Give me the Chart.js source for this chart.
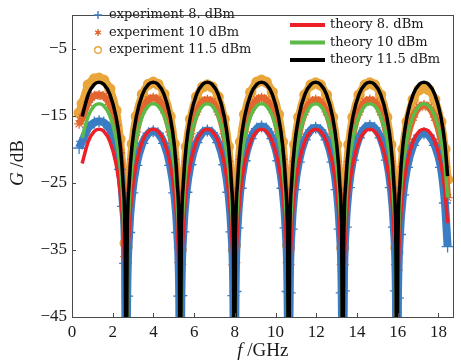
<!DOCTYPE html>
<html>
<head>
<meta charset="utf-8">
<script src="https://cdn.jsdelivr.net/npm/chart.js@4.4.1/dist/chart.umd.min.js"></script>
<style>
    html, body { margin: 0; padding: 0; background: #fff; }
    #wrap { width: 461px; height: 364px; }
</style>
</head>
<body>
<div id="wrap"><canvas id="gain_chart" width="461" height="364"></canvas></div>
<script>
// frequency points (GHz) for the theory curves
var theory_freq = [0.5, 0.8, 1.1, 1.33, 1.56, 1.86, 2.16, 2.36, 2.51, 2.61, 2.66,
    2.71, 2.81, 2.96, 3.16, 3.46, 3.76, 3.99, 4.22, 4.52, 4.82, 5.02, 5.17, 5.27, 5.32,
    5.37, 5.47, 5.62, 5.82, 6.12, 6.42, 6.65, 6.88, 7.18, 7.48, 7.68, 7.83, 7.93, 7.98,
    8.03, 8.13, 8.28, 8.48, 8.78, 9.08, 9.31, 9.54, 9.84, 10.14, 10.34, 10.49, 10.59, 10.64,
    10.69, 10.79, 10.94, 11.14, 11.44, 11.74, 11.97, 12.2, 12.5, 12.8, 13.0, 13.15, 13.25, 13.3,
    13.35, 13.45, 13.6, 13.8, 14.1, 14.4, 14.63, 14.86, 15.16, 15.46, 15.66, 15.81, 15.91, 15.96,
    16.01, 16.11, 16.26, 16.46, 16.76, 17.06, 17.29, 17.52, 17.82, 18.12, 18.32, 18.45];

var theory_8 = [-22.1, -18.8, -17.3, -17, -17.3, -18.8, -22.1, -26.2, -32.1, -41.6, -60,
    -41.6, -32.1, -26.2, -22.1, -18.8, -17.3, -17, -17.3, -18.8, -22.1, -26.2, -32.1, -41.6, -60,
    -41.6, -32.1, -26.2, -22.1, -18.8, -17.3, -17, -17.3, -18.8, -22.1, -26.2, -32.1, -41.6, -60,
    -41.6, -32.1, -26.2, -22.1, -18.8, -17.3, -17, -17.3, -18.8, -22.1, -26.2, -32.1, -41.6, -60,
    -41.6, -32.1, -26.2, -22.1, -18.8, -17.3, -17, -17.3, -18.8, -22.1, -26.2, -32.1, -41.6, -60,
    -41.6, -32.1, -26.2, -22.1, -18.8, -17.3, -17, -17.3, -18.8, -22.1, -26.2, -32.1, -41.6, -60,
    -41.6, -32.1, -26.2, -22.1, -18.8, -17.3, -17, -17.3, -18.8, -22.1, -26.2, -31.0];

var theory_10 = [-18.3, -15.0, -13.5, -13.2, -13.5, -15.0, -18.3, -22.4, -28.3, -37.8, -60,
    -37.8, -28.3, -22.4, -18.3, -15.0, -13.5, -13.2, -13.5, -15.0, -18.3, -22.4, -28.3, -37.8, -60,
    -37.8, -28.3, -22.4, -18.3, -15.0, -13.5, -13.2, -13.5, -15.0, -18.3, -22.4, -28.3, -37.8, -60,
    -37.8, -28.3, -22.4, -18.3, -15.0, -13.5, -13.2, -13.5, -15.0, -18.3, -22.4, -28.3, -37.8, -60,
    -37.8, -28.3, -22.4, -18.3, -15.0, -13.5, -13.2, -13.5, -15.0, -18.3, -22.4, -28.3, -37.8, -60,
    -37.8, -28.3, -22.4, -18.3, -15.0, -13.5, -13.2, -13.5, -15.0, -18.3, -22.4, -28.3, -37.8, -60,
    -37.8, -28.3, -22.4, -18.3, -15.0, -13.5, -13.2, -13.5, -15.0, -18.3, -22.4, -27.2];

var theory_11_5 = [-15.1, -11.8, -10.3, -10, -10.3, -11.8, -15.1, -19.2, -25.1, -34.6, -60,
    -34.6, -25.1, -19.2, -15.1, -11.8, -10.3, -10, -10.3, -11.8, -15.1, -19.2, -25.1, -34.6, -60,
    -34.6, -25.1, -19.2, -15.1, -11.8, -10.3, -10, -10.3, -11.8, -15.1, -19.2, -25.1, -34.6, -60,
    -34.6, -25.1, -19.2, -15.1, -11.8, -10.3, -10, -10.3, -11.8, -15.1, -19.2, -25.1, -34.6, -60,
    -34.6, -25.1, -19.2, -15.1, -11.8, -10.3, -10, -10.3, -11.8, -15.1, -19.2, -25.1, -34.6, -60,
    -34.6, -25.1, -19.2, -15.1, -11.8, -10.3, -10, -10.3, -11.8, -15.1, -19.2, -25.1, -34.6, -60,
    -34.6, -25.1, -19.2, -15.1, -11.8, -10.3, -10, -10.3, -11.8, -15.1, -19.2, -24.0];

// measured data (centre of the scattered band)
var exp_freq = [0.35, 0.5, 0.8, 1.1, 1.33, 1.56, 1.86, 2.16, 2.36, 2.51, 2.61, 2.66,
    2.71, 2.81, 2.96, 3.16, 3.46, 3.76, 3.99, 4.22, 4.52, 4.82, 5.02, 5.17, 5.27, 5.32,
    5.37, 5.47, 5.62, 5.82, 6.12, 6.42, 6.65, 6.88, 7.18, 7.48, 7.68, 7.83, 7.93, 7.98,
    8.03, 8.13, 8.28, 8.48, 8.78, 9.08, 9.31, 9.54, 9.84, 10.14, 10.34, 10.49, 10.59, 10.64,
    10.69, 10.79, 10.94, 11.14, 11.44, 11.74, 11.97, 12.2, 12.5, 12.8, 13.0, 13.15, 13.25, 13.3,
    13.35, 13.45, 13.6, 13.8, 14.1, 14.4, 14.63, 14.86, 15.16, 15.46, 15.66, 15.81, 15.91, 15.96,
    16.01, 16.11, 16.26, 16.46, 16.76, 17.06, 17.29, 17.52, 17.82, 18.12, 18.32, 18.45];

var exp_8 = [-19.8, -18.8, -16.8, -16.0, -15.8, -16.0, -17.0, -19.5, -23.0, -28.5, -37.0, -60,
    -41.9, -32.4, -26.5, -22.4, -19.1, -17.6, -17.3, -17.6, -19.1, -22.4, -26.5, -32.4, -41.9, -60,
    -41.8, -32.3, -26.4, -22.3, -19.0, -17.5, -17.2, -17.5, -19.0, -22.3, -26.4, -32.3, -41.8, -60,
    -41.2, -31.7, -25.8, -21.7, -18.4, -16.9, -16.6, -16.9, -18.4, -21.7, -25.8, -31.7, -41.2, -60,
    -41.4, -31.9, -26.0, -21.9, -18.6, -17.1, -16.8, -17.1, -18.6, -21.9, -26.0, -31.9, -41.4, -60,
    -41.1, -31.6, -25.7, -21.6, -18.3, -16.8, -16.5, -16.8, -18.3, -21.6, -25.7, -31.6, -41.1, -60,
    -42.2, -32.7, -26.8, -22.7, -19.4, -17.9, -17.6, -17.9, -19.4, -22.7, -28.0, -34.5];

var exp_10 = [-16.2, -15.3, -13.0, -12.0, -11.9, -12.1, -13.3, -16.4, -20.5, -26.5, -36.0, -60,
    -36.9, -27.4, -21.5, -17.4, -14.1, -12.6, -12.3, -12.6, -14.1, -17.4, -21.5, -27.4, -36.9, -60,
    -37.2, -27.7, -21.8, -17.7, -14.4, -12.9, -12.6, -12.9, -14.4, -17.7, -21.8, -27.7, -37.2, -60,
    -36.9, -27.4, -21.5, -17.4, -14.1, -12.6, -12.3, -12.6, -14.1, -17.4, -21.5, -27.4, -36.9, -60,
    -37.2, -27.7, -21.8, -17.7, -14.4, -12.9, -12.6, -12.9, -14.4, -17.7, -21.8, -27.7, -37.2, -60,
    -37.2, -27.7, -21.8, -17.7, -14.4, -12.9, -12.6, -12.9, -14.4, -17.7, -21.8, -27.7, -37.2, -60,
    -38.0, -28.5, -22.6, -18.5, -15.2, -13.7, -13.4, -13.7, -15.2, -18.5, -22.6, -27.2];

var exp_11_5 = [-14.6, -13.2, -10.4, -9.5, -9.4, -9.7, -11.0, -14.2, -18.5, -24.5, -34.0, -60,
    -34.6, -25.1, -19.2, -15.1, -11.8, -10.3, -10.0, -10.3, -11.8, -15.1, -19.2, -25.1, -34.6, -60,
    -35.0, -25.5, -19.6, -15.5, -12.2, -10.7, -10.4, -10.7, -12.2, -15.5, -19.6, -25.5, -35.0, -60,
    -34.3, -24.8, -18.9, -14.8, -11.5, -10.0, -9.7, -10.0, -11.5, -14.8, -18.9, -24.8, -34.3, -60,
    -34.7, -25.2, -19.3, -15.2, -11.9, -10.4, -10.1, -10.4, -11.9, -15.2, -19.3, -25.2, -34.7, -60,
    -34.7, -25.2, -19.3, -15.2, -11.9, -10.4, -10.1, -10.4, -11.9, -15.2, -19.3, -25.2, -34.7, -60,
    -35.4, -25.9, -20.0, -15.9, -12.6, -11.1, -10.8, -11.1, -12.6, -15.9, -20.0, -24.5];

var x_ticks = [0, 2, 4, 6, 8, 10, 12, 14, 16, 18];
var y_ticks = [-45, -35, -25, -15, -5];

var exp_labels = ['experiment 8. dBm', 'experiment 10 dBm', 'experiment 11.5 dBm'];
var theory_labels = ['theory 8. dBm', 'theory 10 dBm', 'theory 11.5 dBm'];

var exp_colors = ['#3b7dc4', '#e2662e', '#e9a63b'];
var theory_colors = ['#ec2127', '#5cba46', '#000000'];

function toPoints(xs, ys) {
    var pts = [];
    for (let k = 0; k < xs.length; k++) {
        pts.push({ x: xs[k], y: ys[k] });
    }
    return pts;
}

function lineSet(label, xs, ys, color, width, order, marker) {
    return {
        label: label,
        data: toPoints(xs, ys),
        showLine: true,
        borderColor: color,
        backgroundColor: color,
        borderWidth: width,
        pointRadius: 0,
        cubicInterpolationMode: 'monotone',
        clip: 0,
        order: order,
        marker: marker
    };
}

// measured sets get their scatter marker on top of the band
function expSet(label, xs, ys, color, width, order, marker, style, radius) {
    var ds = lineSet(label, xs, ys, color, width, order, marker);
    ds.pointStyle = style;
    ds.pointRadius = radius;
    ds.pointBorderWidth = 1.3;
    ds.pointBorderColor = color;
    ds.pointBackgroundColor = color;
    return ds;
}

var datasets = [
    lineSet(theory_labels[2], theory_freq, theory_11_5, theory_colors[2], 3.5, 1, 'line'),
    lineSet(theory_labels[1], theory_freq, theory_10, theory_colors[1], 3.5, 2, 'line'),
    lineSet(theory_labels[0], theory_freq, theory_8, theory_colors[0], 3.5, 3, 'line'),
    expSet(exp_labels[0], exp_freq, exp_8, exp_colors[0], 8, 4, 'plus', 'cross', 6),
    expSet(exp_labels[1], exp_freq, exp_10, exp_colors[1], 7, 5, 'star', 'star', 5),
    expSet(exp_labels[2], exp_freq, exp_11_5, exp_colors[2], 8, 6, 'circle', 'circle', 5)
];

function drawMarker(ctx, kind, x, y, color) {
    ctx.save();
    ctx.strokeStyle = color;
    ctx.fillStyle = color;
    ctx.lineWidth = 1.4;
    ctx.beginPath();
    if (kind === 'plus') {
        ctx.moveTo(x - 4, y); ctx.lineTo(x + 4, y);
        ctx.moveTo(x, y - 4); ctx.lineTo(x, y + 4);
        ctx.stroke();
    } else if (kind === 'star') {
        for (let a = 0; a < 3; a++) {
            var ang = Math.PI / 2 + a * Math.PI / 3;
            ctx.moveTo(x - 3.5 * Math.cos(ang), y - 3.5 * Math.sin(ang));
            ctx.lineTo(x + 3.5 * Math.cos(ang), y + 3.5 * Math.sin(ang));
        }
        ctx.stroke();
        ctx.beginPath();
        ctx.arc(x, y, 1.8, 0, Math.PI * 2);
        ctx.fill();
    } else {
        ctx.arc(x, y, 3.3, 0, Math.PI * 2);
        ctx.stroke();
    }
    ctx.restore();
}

var decorPlugin = {
    id: 'decor',
    afterDatasetsDraw: function (chart) {
        var ctx = chart.ctx;
        var area = chart.chartArea;
        var xs = chart.scales.x, ys = chart.scales.y;
        ctx.save();
        ctx.strokeStyle = '#4a4a4a';
        ctx.lineWidth = 1;
        ctx.strokeRect(Math.round(area.left) + 0.5, Math.round(area.top) + 0.5,
            Math.round(area.right - area.left) - 1, Math.round(area.bottom - area.top));
        // inward ticks
        ctx.beginPath();
        x_ticks.forEach(function (v) {
            var px = Math.round(xs.getPixelForValue(v)) + 0.5;
            ctx.moveTo(px, area.bottom); ctx.lineTo(px, area.bottom - 4);
        });
        y_ticks.forEach(function (v) {
            var py = Math.round(ys.getPixelForValue(v)) + 0.5;
            ctx.moveTo(area.left, py); ctx.lineTo(area.left + 4, py);
        });
        ctx.stroke();
        ctx.restore();
    },
    afterDraw: function (chart) {
        var ctx = chart.ctx;
        var area = chart.chartArea;
        ctx.save();
        ctx.fillStyle = '#1a1a1a';
        ctx.textBaseline = 'alphabetic';
        // x axis title
        var cx = (area.left + area.right) / 2;
        ctx.font = 'italic 19px "Liberation Serif"';
        var w1 = ctx.measureText('f').width;
        ctx.font = '19px "Liberation Serif"';
        var w2 = ctx.measureText(' /GHz').width;
        var sx = cx - (w1 + w2) / 2;
        ctx.font = 'italic 19px "Liberation Serif"';
        ctx.fillText('f', sx, 356);
        ctx.font = '19px "Liberation Serif"';
        ctx.fillText(' /GHz', sx + w1, 356);
        // y axis title
        ctx.save();
        ctx.translate(23, 163);
        ctx.rotate(-Math.PI / 2);
        ctx.font = 'italic 19px "Liberation Serif"';
        var g1 = ctx.measureText('G').width;
        ctx.font = '19px "Liberation Serif"';
        var g2 = ctx.measureText(' /dB').width;
        ctx.font = 'italic 19px "Liberation Serif"';
        ctx.fillText('G', -(g1 + g2) / 2, 0);
        ctx.font = '19px "Liberation Serif"';
        ctx.fillText(' /dB', -(g1 + g2) / 2 + g1, 0);
        ctx.restore();

        // legend, two groups
        ctx.font = '13px "DejaVu Serif"';
        ctx.textBaseline = 'middle';
        var rows = [15, 32.5, 50];
        for (let k = 0; k < 3; k++) {
            var ds = chart.data.datasets[3 + k];
            drawMarker(ctx, ds.marker, 98, rows[k], ds.borderColor);
            ctx.fillStyle = '#1a1a1a';
            ctx.fillText(ds.label, 109, rows[k]);
        }
        var rows2 = [25, 42.5, 60];
        for (let k = 0; k < 3; k++) {
            var ds2 = chart.data.datasets[2 - k];
            ctx.strokeStyle = ds2.borderColor;
            ctx.lineWidth = 4;
            ctx.beginPath();
            ctx.moveTo(290, rows2[k]); ctx.lineTo(325, rows2[k]);
            ctx.stroke();
            ctx.fillStyle = '#1a1a1a';
            ctx.fillText(ds2.label, 330, rows2[k]);
        }
        ctx.restore();
    }
};

var ctx = document.getElementById('gain_chart').getContext('2d');
var chart = new Chart(ctx, {
    type: 'scatter',
    data: { datasets: datasets },
    options: {
        responsive: false,
        animation: false,
        events: [],
        layout: { padding: { top: 4, right: 2, left: 0, bottom: 0 } },
        plugins: { legend: { display: false }, tooltip: { enabled: false } },
        scales: {
            x: {
                type: 'linear', min: 0, max: 18.75,
                afterBuildTicks: function (scale) {
                    scale.ticks = x_ticks.map(function (v) { return { value: v }; });
                },
                afterFit: function (scale) { scale.height = 47; },
                grid: { display: false, drawTicks: false },
                border: { display: false },
                ticks: {
                    padding: 5, color: '#1a1a1a', maxRotation: 0, autoSkip: false,
                    font: { family: 'Liberation Serif', size: 17 }
                }
            },
            y: {
                type: 'linear', min: -45, max: 0,
                afterBuildTicks: function (scale) {
                    scale.ticks = y_ticks.map(function (v) { return { value: v }; });
                },
                afterFit: function (scale) { scale.width = 72; },
                grid: { display: false, drawTicks: false },
                border: { display: false },
                ticks: {
                    padding: 5, color: '#1a1a1a', autoSkip: false,
                    font: { family: 'Liberation Serif', size: 17 },
                    callback: function (v) { return String(v).replace('-', '\u2212'); }
                }
            }
        }
    },
    plugins: [decorPlugin]
});
</script>
</body>
</html>
